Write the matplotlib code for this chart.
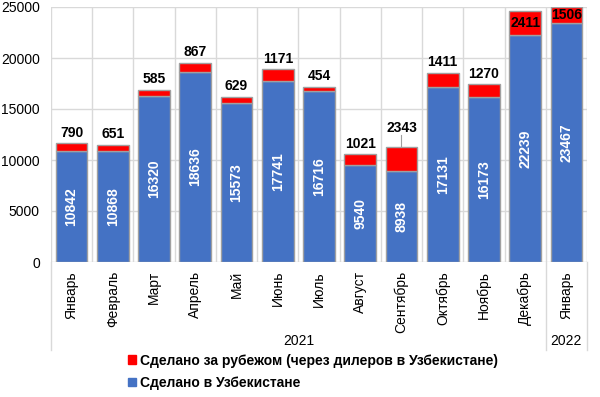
import matplotlib
matplotlib.use("Agg")
import matplotlib.pyplot as plt
from matplotlib.patches import Rectangle
from matplotlib.lines import Line2D

plt.rcParams['font.family'] = ['Liberation Sans', 'DejaVu Sans']

months = ["Январь", "Февраль", "Март", "Апрель", "Май", "Июнь", "Июль",
          "Август", "Сентябрь", "Октябрь", "Ноябрь", "Декабрь", "Январь"]
years = ["2021", "2022"]
year_counts = [12, 1]
local = [10842, 10868, 16320, 18636, 15573, 17741, 16716, 9540, 8938, 17131, 16173, 22239, 23467]
abroad = [790, 651, 585, 867, 629, 1171, 454, 1021, 2343, 1411, 1270, 2411, 1506]
legend_labels = ["Сделано за рубежом (через дилеров в Узбекистане)", "Сделано в Узбекистане"]

blue = "#4472C4"
red = "#FF0000"

fig = plt.figure(figsize=(6, 3.97), dpi=100)
ax = fig.add_axes([51/600, 1-262/397, (587-51)/600, (262-7)/397])

n = len(months)
x = list(range(n))
ax.bar(x, local, width=0.77, color=blue, edgecolor="#A0A0A0", linewidth=1, zorder=3)
ax.bar(x, abroad, bottom=local, width=0.77, color=red, edgecolor="#A0A0A0", linewidth=1, zorder=3)

ax.set_xlim(-0.5, n-0.5)
ax.set_ylim(0, 25000)
ax.set_yticks(range(0, 25001, 5000))
ax.tick_params(axis='y', length=0, labelsize=10, pad=8)
ax.tick_params(axis='x', length=0, labelbottom=False)
ax.yaxis.grid(True, color="#D9D9D9", linewidth=1, zorder=0)
for b in range(n+1):
    ax.axvline(b-0.5, color="#D9D9D9", linewidth=1, zorder=0)
for s in ax.spines.values():
    s.set_visible(False)

for i in x:
    ax.text(i, local[i]/2, str(local[i]), rotation=90, ha='center', va='center',
            color='white', fontsize=10, fontweight='bold', zorder=4)
    top = local[i] + abroad[i]
    if top > 23500:
        ax.text(i, local[i] + abroad[i]/2, str(abroad[i]), ha='center', va='center',
                color='black', fontsize=10, fontweight='bold', zorder=4)
    else:
        off = 1200 if i == 8 else 350
        ax.text(i, top + off, str(abroad[i]), ha='center', va='bottom',
                color='black', fontsize=10, fontweight='bold', zorder=4)
        if i == 8:
            ax.plot([i, i], [top, top + off], color="#A0A0A0", linewidth=0.8, zorder=4)

# category labels
trans = ax.get_xaxis_transform()
for i, m in enumerate(months):
    ax.text(i, -0.035, m, rotation=90, ha='center', va='top', fontsize=10,
            transform=trans, clip_on=False)
# year labels and separators
start = 0
bounds = [0]
for y, c in zip(years, year_counts):
    ax.text(start + c/2 - 0.5, -0.31, y, ha='center', va='center', fontsize=10,
            transform=trans, clip_on=False)
    start += c
    bounds.append(start)
for b in bounds:
    ax.add_line(Line2D([b-0.5, b-0.5], [0, -0.345], transform=trans, color="#D9D9D9",
                       linewidth=1, clip_on=False))

handles = [Rectangle((0, 0), 1, 1, color=red), Rectangle((0, 0), 1, 1, color=blue)]
leg = fig.legend(handles, legend_labels, loc='upper left', bbox_to_anchor=(115/600, 1-341/397),
                 frameon=False, handlelength=0.6, handleheight=0.6, handletextpad=0.3,
                 labelspacing=0.6, prop={'weight': 'bold', 'size': 10})

fig.savefig("out.png", dpi=100)
